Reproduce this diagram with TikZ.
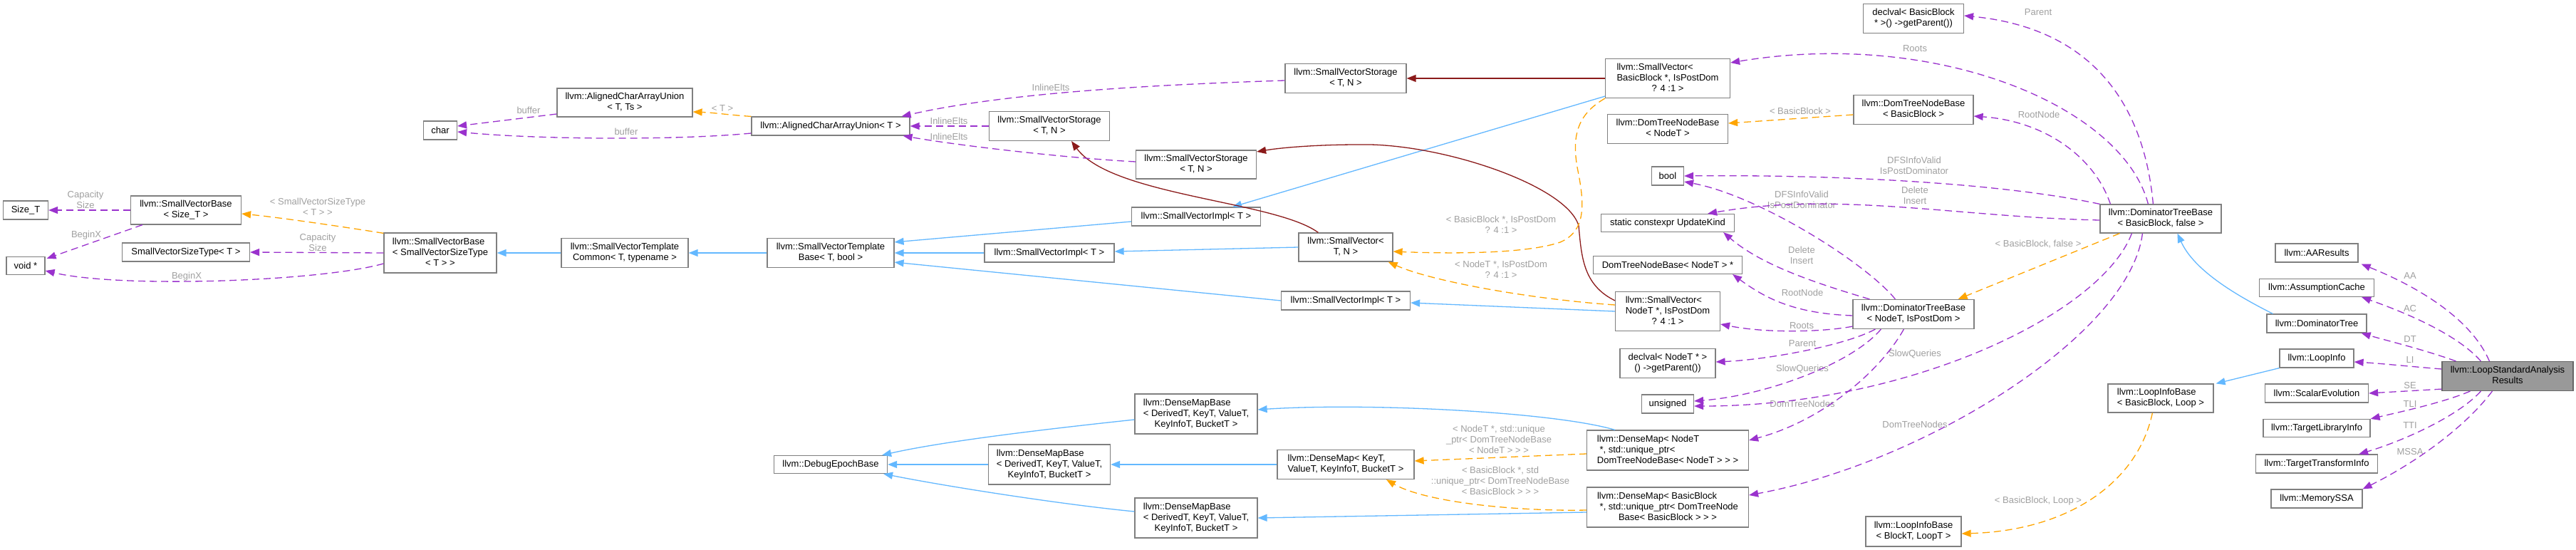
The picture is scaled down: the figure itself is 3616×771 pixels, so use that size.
\documentclass[tikz,border=0pt]{standalone}
\usepackage{fontspec}
\setmainfont{Liberation Sans}
\usetikzlibrary{arrows.meta, calc}
\definecolor{cpurple}{HTML}{9A32CD}
\definecolor{corange}{HTML}{FFA500}
\definecolor{cblue}{HTML}{63B8FF}
\definecolor{cdred}{HTML}{8B1A1A}
\definecolor{cbox}{HTML}{7F7F7F}
\definecolor{clabel}{HTML}{A0A0A0}
\definecolor{croot}{HTML}{999999}
\newcommand{\dgfont}{\fontsize{13}{15}\selectfont}
% class label: upper lines flush left, last line centred
\newcommand{\cltext}[2]{\begin{tabular}{@{}l@{}}#1\\\multicolumn{1}{@{}c@{}}{#2}\end{tabular}}
\tikzset{
  every picture/.style={font=\dgfont},
  cls/.style 2 args={draw=cbox, line width=1.2pt, fill=white, align=center, inner sep=0pt, minimum width=#1pt, minimum height=#2pt},
  usage/.style={draw=cpurple, line width=1.3pt, dash pattern=on 10pt off 6pt, -{Triangle[length=13pt, width=10pt]}},
  inherit/.style={draw=cblue, line width=1.3pt, -{Triangle[length=13pt, width=10pt]}},
  tmpl/.style={draw=corange, line width=1.3pt, dash pattern=on 10pt off 6pt, -{Triangle[length=13pt, width=10pt]}},
  protinh/.style={draw=cdred, line width=1.3pt, -{Triangle[length=13pt, width=10pt]}},
  lbl/.style={text=clabel, align=center, inner sep=0pt},
}
\begin{document}
\begin{tikzpicture}[x=1pt, y=-1pt]
  \fill[white] (0,0) rectangle (3616,771);
  \useasboundingbox (0,0) rectangle (3616,771);
  % SmallVector side
  \node[cls={63}{26}] (sizeT) at (36,295) {Size\_T};
  \node[cls={54}{25}] (voidp) at (36,373) {void *};
  \node[cls={155}{40}] (svbSize) at (261,295) {\cltext{llvm::SmallVectorBase}{< Size\_T >}};
  \node[cls={179}{26}] (svSizeType) at (261,354) {SmallVectorSizeType< T >};
  \node[cls={158}{56}] (svbType) at (618,355) {\cltext{llvm::SmallVectorBase\\< SmallVectorSizeType}{< T > >}};
  \node[cls={47}{26}] (charT) at (618,183) {char};
  \node[cls={190}{40}] (acauTs) at (877,144) {\cltext{llvm::AlignedCharArrayUnion}{< T, Ts >}};
  \node[cls={178}{41}] (svtCommon) at (877,355) {\cltext{llvm::SmallVectorTemplate}{Common< T, typename >}};
  \node[cls={222}{26}] (acauT) at (1166,177) {llvm::AlignedCharArrayUnion< T >};
  \node[cls={178}{41}] (svtBase) at (1166,355) {\cltext{llvm::SmallVectorTemplate}{Base< T, bool >}};
  \node[cls={159}{25}] (debugBase) at (1166,652) {llvm::DebugEpochBase};
  \node[cls={169}{41}] (svsA) at (1473,177) {\cltext{llvm::SmallVectorStorage}{< T, N >}};
  \node[cls={182}{26}] (sviMid) at (1473,355) {llvm::SmallVectorImpl< T >};
  \node[cls={171}{56}] (dmbMid) at (1473,652) {\cltext{llvm::DenseMapBase\\< DerivedT, KeyT, ValueT,}{KeyInfoT, BucketT >}};
  \node[cls={169}{40}] (svsC) at (1679,231) {\cltext{llvm::SmallVectorStorage}{< T, N >}};
  \node[cls={181}{26}] (sviUp) at (1679,304) {llvm::SmallVectorImpl< T >};
  \node[cls={172}{56}] (dmbUp) at (1679,581) {\cltext{llvm::DenseMapBase\\< DerivedT, KeyT, ValueT,}{KeyInfoT, BucketT >}};
  \node[cls={172}{56}] (dmbLow) at (1679,727) {\cltext{llvm::DenseMapBase\\< DerivedT, KeyT, ValueT,}{KeyInfoT, BucketT >}};
  \node[cls={170}{41}] (svsB) at (1889,110) {\cltext{llvm::SmallVectorStorage}{< T, N >}};
  \node[cls={132}{40}] (svTN) at (1889,347) {\cltext{llvm::SmallVector<}{T, N >}};
  \node[cls={181}{26}] (sviLow) at (1889,422) {llvm::SmallVectorImpl< T >};
  \node[cls={192}{41}] (dmKey) at (1889,652) {\cltext{llvm::DenseMap< KeyT,}{ValueT, KeyInfoT, BucketT >}};
  % dominator tree members
  \node[cls={175}{55}] (svBB) at (2341,110) {\cltext{llvm::SmallVector<\\BasicBlock *, IsPostDom}{? 4 :1 >}};
  \node[cls={169}{41}] (dtnbT) at (2341,181) {\cltext{llvm::DomTreeNodeBase}{< NodeT >}};
  \node[cls={45}{26}] (boolT) at (2341,247) {bool};
  \node[cls={187}{25}] (updKind) at (2341,313) {static constexpr UpdateKind};
  \node[cls={209}{25}] (dtnbPtr) at (2341,372) {DomTreeNodeBase< NodeT > *};
  \node[cls={147}{55}] (svNodeT) at (2341,437) {\cltext{llvm::SmallVector<\\NodeT *, IsPostDom}{? 4 :1 >}};
  \node[cls={134}{41}] (declNodeT) at (2341,510) {\cltext{declval< NodeT * >}{() ->getParent())}};
  \node[cls={73}{26}] (unsignedT) at (2341,567) {unsigned};
  \node[cls={227}{56}] (dmNodeT) at (2341,632) {\cltext{llvm::DenseMap< NodeT\\\ *, std::unique\_ptr<}{DomTreeNodeBase< NodeT > > >}};
  \node[cls={227}{56}] (dmBB) at (2341,712) {\cltext{llvm::DenseMap< BasicBlock\\\ *, std::unique\_ptr< DomTreeNode}{Base< BasicBlock > > >}};
  \node[cls={141}{41}] (declBB) at (2686,26) {\cltext{declval< BasicBlock}{{}* >() ->getParent())}};
  \node[cls={168}{41}] (dtnbBB) at (2686,154) {\cltext{llvm::DomTreeNodeBase}{< BasicBlock >}};
  \node[cls={170}{41}] (dtbT) at (2686,441) {\cltext{llvm::DominatorTreeBase}{< NodeT, IsPostDom >}};
  \node[cls={134}{42}] (libT) at (2686,746) {\cltext{llvm::LoopInfoBase}{< BlockT, LoopT >}};
  \node[cls={170}{40}] (dtbBB) at (3033,307) {\cltext{llvm::DominatorTreeBase}{< BasicBlock, false >}};
  \node[cls={148}{40}] (libBB) at (3033,559) {\cltext{llvm::LoopInfoBase}{< BasicBlock, Loop >}};
  % analysis results
  \node[cls={116}{26}] (aa) at (3252,355) {llvm::AAResults};
  \node[cls={161}{25}] (ac) at (3252,404) {llvm::AssumptionCache};
  \node[cls={140}{26}] (dt) at (3252,454) {llvm::DominatorTree};
  \node[cls={104}{26}] (li) at (3252,503) {llvm::LoopInfo};
  \node[cls={145}{26}] (se) at (3252,552) {llvm::ScalarEvolution};
  \node[cls={150}{25}] (tli) at (3252,601) {llvm::TargetLibraryInfo};
  \node[cls={171}{26}] (tti) at (3252,651) {llvm::TargetTransformInfo};
  \node[cls={128}{26}] (mssa) at (3252,700) {llvm::MemorySSA};
  \node[cls={184}{41}, fill=croot, draw=black!60] (lsar) at (3520,528) {\cltext{llvm::LoopStandardAnalysis}{Results}};

  % edge labels
  \node[lbl] (lCapA) at (120,280) {Capacity\\Size};
  \node[lbl] (lBegA) at (121,330) {BeginX};
  \node[lbl] (lCapB) at (446,340) {Capacity\\Size};
  \node[lbl] (lBegB) at (262,388) {BeginX};
  \node[lbl] (lSzT) at (446,290) {< SmallVectorSizeType\\< T > >};
  \node[lbl] (lBufA) at (742,155) {buffer};
  \node[lbl] (lBufB) at (879,185) {buffer};
  \node[lbl] (lTarg) at (1014,152) {< T >};
  \node[lbl] (lInA) at (1475,123) {InlineElts};
  \node[lbl] (lInB) at (1332,170) {InlineElts};
  \node[lbl] (lInC) at (1332,192) {InlineElts};
  \node[lbl] (lBBPD) at (2107,315) {< BasicBlock *, IsPostDom\\? 4 :1 >};
  \node[lbl] (lNTPD) at (2107,378) {< NodeT *, IsPostDom\\? 4 :1 >};
  \node[lbl] (lNTmap) at (2104,617) {< NodeT *, std::unique\\\_ptr< DomTreeNodeBase\\< NodeT > > >};
  \node[lbl] (lBBmap) at (2106,675) {< BasicBlock *, std\\::unique\_ptr< DomTreeNodeBase\\< BasicBlock > > >};
  \node[lbl] (lBBnode) at (2527,156) {< BasicBlock >};
  \node[lbl] (lParA) at (2861,17) {Parent};
  \node[lbl] (lRootsA) at (2688,68) {Roots};
  \node[lbl] (lRNA) at (2862,161) {RootNode};
  \node[lbl] (lDFSA) at (2687,232) {DFSInfoValid\\IsPostDominator};
  \node[lbl] (lDelA) at (2688,274) {Delete\\Insert};
  \node[lbl] (lBBf) at (2861,343) {< BasicBlock, false >};
  \node[lbl] (lSQA) at (2688,497) {SlowQueries};
  \node[lbl] (lDTNA) at (2688,596) {DomTreeNodes};
  \node[lbl] (lDFSB) at (2529,280) {DFSInfoValid\\IsPostDominator};
  \node[lbl] (lDelB) at (2529,358) {Delete\\Insert};
  \node[lbl] (lRNB) at (2530,411) {RootNode};
  \node[lbl] (lRootsB) at (2529,457) {Roots};
  \node[lbl] (lParB) at (2530,482) {Parent};
  \node[lbl] (lSQB) at (2530,518) {SlowQueries};
  \node[lbl] (lDTNB) at (2530,567) {DomTreeNodes};
  \node[lbl] (lBBL) at (2861,703) {< BasicBlock, Loop >};
  \node[lbl] (lAA) at (3383,387) {AA};
  \node[lbl] (lAC) at (3383,433) {AC};
  \node[lbl] (lDT) at (3383,476) {DT};
  \node[lbl] (lLI) at (3383,505) {LI};
  \node[lbl] (lSE) at (3383,541) {SE};
  \node[lbl] (lTLI) at (3383,567) {TLI};
  \node[lbl] (lTTI) at (3383,597) {TTI};
  \node[lbl] (lMSSA) at (3383,634) {MSSA};

  % small vector base edges
  \draw[usage] (svbSize.west) -- (sizeT.east);
  \draw[usage] ($(svbSize.south west)+(17,0)$) -- ($(voidp.north east)+(2,3)$);
  \draw[usage] (svbType.west) -- (svSizeType.east);
  \draw[usage] ($(svbType.west)+(0,15)$) .. controls (450,395) and (170,405) .. ($(voidp.east)+(0,7)$);
  \draw[tmpl] ($(svbType.north west)+(0,1)$) .. controls (480,318) and (390,305) .. ($(svbSize.east)+(0,5)$);
  \draw[inherit] (svtCommon.west) -- (svbType.east);
  \draw[inherit] (svtBase.west) -- (svtCommon.east);
  \draw[inherit] ($(sviUp.west)+(0,7)$) -- ($(svtBase.north east)+(0,6)$);
  \draw[inherit] (sviMid.west) -- (svtBase.east);
  \draw[inherit] (sviLow.west) -- ($(svtBase.south east)+(0,-8)$);
  \draw[inherit] (svTN.west) -- ($(sviMid.east)+(0,-2)$);
  \draw[inherit] (svNodeT.west) -- ($(sviLow.east)+(0,3)$);
  \draw[inherit] ($(svBB.south west)+(0,-3)$) -- ($(sviUp.north east)+(-40,0)$);
  \draw[protinh] ($(svTN.north west)+(28,0)$) .. controls (1790,282) and (1560,275) .. ($(svsA.south)+(31,0)$);
  \draw[protinh] ($(svNodeT.north west)+(0,13)$) .. controls (2222,400) and (2220,360) .. (2216,317) .. controls (2200,260) and (2020,200) .. (1907,203) .. controls (1850,203) and (1800,207) .. ($(svsC.east)+(0,-18)$);
  \draw[protinh] (svBB.west) -- (svsB.east);
  \draw[usage] (svsA.west) -- (acauT.east);
  \draw[usage] ($(svsC.west)+(0,-4)$) .. controls (1500,222) and (1350,205) .. ($(acauT.south east)+(-10,0)$);
  \draw[usage] ($(svsB.west)+(0,3)$) .. controls (1650,118) and (1420,128) .. ($(acauT.north east)+(-12,0)$);
  \draw[tmpl] (acauT.north west) .. controls (1030,162) and (1000,158) .. ($(acauTs.east)+(0,13)$);
  \draw[usage] ($(acauTs.west)+(0,16)$) -- ($(charT.east)+(0,-6)$);
  \draw[usage] ($(acauT.west)+(0,10)$) .. controls (950,197) and (760,196) .. ($(charT.east)+(0,2)$);
  \draw[tmpl] (svBB.south west) .. controls (2215,160) and (2205,190) .. (2215,240) .. controls (2225,290) and (2225,325) .. (2190,340) .. controls (2140,357) and (2030,356) .. ($(svTN.east)+(0,6)$);
  \draw[tmpl] ($(svNodeT.west)+(0,-9)$) .. controls (2150,420) and (2010,395) .. ($(svTN.south east)+(-7,0)$);
  % dense maps
  \draw[tmpl] ($(dmNodeT.west)+(0,5)$) -- ($(dmKey.east)+(0,-5)$);
  \draw[tmpl] ($(dmBB.west)+(0,4)$) .. controls (2130,718) and (2000,705) .. ($(dmKey.south)+(57,0)$);
  \draw[inherit] (dmKey.west) -- (dmbMid.east);
  \draw[inherit] ($(dmNodeT.north west)+(40,0)$) .. controls (2180,578) and (1920,565) .. ($(dmbUp.east)+(0,-6)$);
  \draw[inherit] ($(dmBB.west)+(0,7)$) -- (dmbLow.east);
  \draw[inherit] ($(dmbUp.west)+(0,8)$) .. controls (1490,600) and (1330,618) .. ($(debugBase.north east)+(-8,0)$);
  \draw[inherit] (dmbMid.west) -- (debugBase.east);
  \draw[inherit] ($(dmbLow.west)+(0,-9)$) .. controls (1490,708) and (1330,683) .. ($(debugBase.south east)+(-6,0)$);
  % DominatorTreeBase< BasicBlock, false >
  \draw[tmpl] ($(dtnbBB.west)+(0,7)$) -- ($(dtnbT.east)+(0,-8)$);
  \draw[usage] ($(dtbBB.north west)+(75,0)$) .. controls (3010,150) and (2940,40) .. ($(declBB.east)+(0,-4)$);
  \draw[usage] ($(dtbBB.north west)+(68,0)$) .. controls (2980,150) and (2720,40) .. ($(svBB.east)+(0,-22)$);
  \draw[usage] ($(dtbBB.north west)+(15,0)$) .. controls (2940,220) and (2870,170) .. ($(dtnbBB.east)+(0,9)$);
  \draw[usage] (dtbBB.north west) .. controls (2800,255) and (2560,245) .. (boolT.east);
  \draw[usage] ($(dtbBB.west)+(0,2)$) .. controls (2750,305) and (2580,268) .. ($(updKind.north east)+(-38,0)$);
  \draw[tmpl] ($(dtbBB.south west)+(28,0)$) -- ($(dtbT.north east)+(-23,0)$);
  \draw[usage] ($(dtbBB.south west)+(45,0)$) .. controls (2950,440) and (2680,570) .. ($(unsignedT.east)+(0,3)$);
  \draw[usage] ($(dtbBB.south west)+(60,0)$) .. controls (2990,470) and (2700,650) .. ($(dmBB.east)+(0,-17)$);
  % DominatorTreeBase< NodeT, IsPostDom >
  \draw[usage] ($(dtbT.north west)+(60,0)$) .. controls (2620,370) and (2470,275) .. ($(boolT.east)+(0,8)$);
  \draw[usage] ($(dtbT.north west)+(24,0)$) .. controls (2540,395) and (2470,370) .. ($(updKind.south east)+(-16,0)$);
  \draw[usage] ($(dtbT.west)+(0,2)$) .. controls (2520,440) and (2480,420) .. ($(dtnbPtr.south east)+(-14,0)$);
  \draw[usage] ($(dtbT.south west)+(0,-4)$) .. controls (2560,466) and (2480,468) .. ($(svNodeT.east)+(0,18)$);
  \draw[usage] ($(dtbT.south west)+(32,0)$) .. controls (2590,485) and (2480,505) .. ($(declNodeT.east)+(0,-2)$);
  \draw[usage] ($(dtbT.south west)+(40,0)$) .. controls (2600,510) and (2480,555) .. ($(unsignedT.east)+(0,-4)$);
  \draw[usage] ($(dtbT.south west)+(72,0)$) .. controls (2640,520) and (2560,590) .. ($(dmNodeT.east)+(0,-14)$);
  % loop info
  \draw[tmpl] ($(libBB.south west)+(63,0)$) .. controls (3000,680) and (2900,745) .. ($(libT.east)+(0,3)$);
  \draw[inherit] ($(dt.north west)+(9,0)$) .. controls (3140,415) and (3080,380) .. ($(dtbBB.south west)+(109,0)$);
  \draw[inherit] (li.south west) -- ($(libBB.north east)+(3,0)$);
  % LoopStandardAnalysisResults members
  \draw[usage] ($(lsar.north west)+(67,0)$) .. controls (3470,450) and (3400,405) .. ($(aa.south east)+(4,2)$);
  \draw[usage] ($(lsar.north west)+(55,0)$) .. controls (3450,470) and (3380,440) .. ($(ac.south east)+(-18,0)$);
  \draw[usage] ($(lsar.north west)+(20,0)$) .. controls (3400,490) and (3350,478) .. ($(dt.south east)+(-8,0)$);
  \draw[usage] ($(lsar.west)+(0,-10)$) .. controls (3390,515) and (3340,510) .. ($(li.east)+(0,5)$);
  \draw[usage] ($(lsar.south west)+(0,-3)$) -- (se.east);
  \draw[usage] ($(lsar.south west)+(40,0)$) .. controls (3430,565) and (3370,578) .. (tli.north east);
  \draw[usage] ($(lsar.south west)+(55,0)$) .. controls (3450,585) and (3370,620) .. ($(tti.north east)+(-27,0)$);
  \draw[usage] ($(lsar.south west)+(71,0)$) .. controls (3460,600) and (3390,650) .. (mssa.north east);
\end{tikzpicture}
\end{document}
